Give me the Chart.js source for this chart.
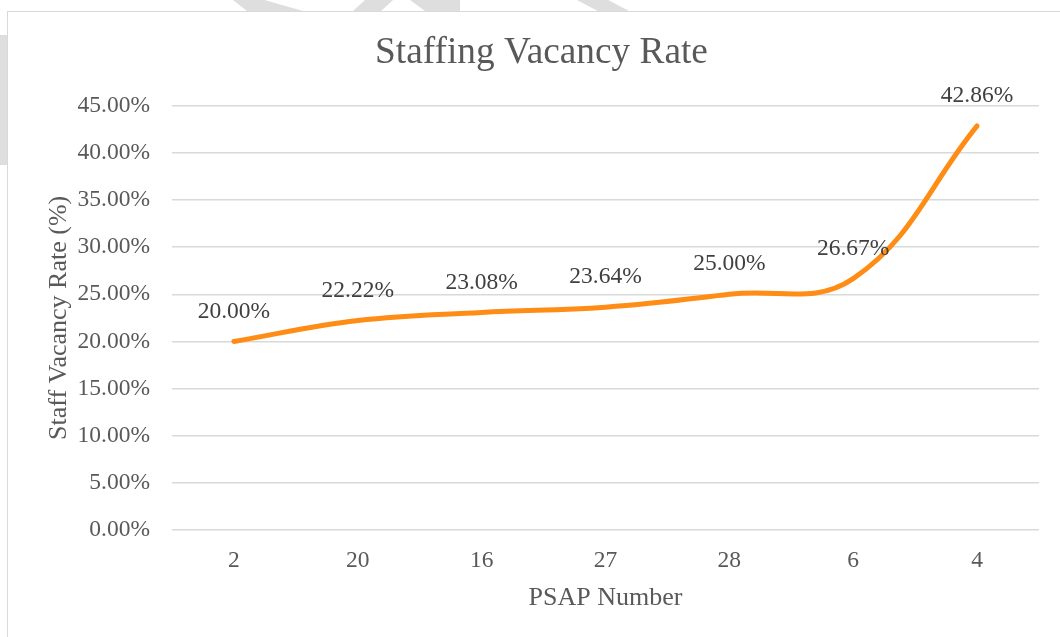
<!DOCTYPE html>
<html>
<head>
<meta charset="utf-8">
<script src="https://cdn.jsdelivr.net/npm/chart.js@4"></script>
<style>
  body { margin: 0; background: #fff; overflow: hidden; }
  .mark { position: absolute; background: #dedede; }
  #box { position: absolute; left: 7px; top: 11px; width: 1053px; height: 626px;
         border-left: 1px solid #d9d9d9; border-top: 1px solid #d9d9d9; background: #fff; }
</style>
</head>
<body>
<!-- faint watermark bits peeking out around the chart frame -->
<div class="mark" style="left:233px;top:0;width:70px;height:11px;clip-path:polygon(0 0,45% 0,100% 100%,20% 100%)"></div>
<div class="mark" style="left:353px;top:0;width:40px;height:11px;clip-path:polygon(30% 0,100% 0,70% 100%,0 100%)"></div>
<div class="mark" style="left:410px;top:0;width:50px;height:11px;clip-path:polygon(0 0,100% 0,100% 100%,30% 100%)"></div>
<div class="mark" style="left:577px;top:0;width:52px;height:11px;clip-path:polygon(0 0,60% 0,100% 100%,40% 100%)"></div>
<div class="mark" style="left:0;top:35px;width:7px;height:130px"></div>
<div id="box"><canvas id="chart" width="1052" height="625"></canvas></div>
<script>
// data
const psapNumbers = ['2', '20', '16', '27', '28', '6', '4'];
const vacancyRates = [20.00, 22.22, 23.08, 23.64, 25.00, 26.67, 42.86];
const yTicks = { min: 0, max: 45, step: 5 };

const serif = "'Liberation Serif', 'Times New Roman', serif";

// draws the value above each point, like Excel's "Above" data labels
const pointLabels = {
  id: 'pointLabels',
  afterDatasetsDraw(chart) {
    const ctx = chart.ctx;
    const meta = chart.getDatasetMeta(0);
    ctx.save();
    ctx.font = '23.5px ' + serif;
    ctx.fillStyle = '#404040';
    ctx.textAlign = 'center';
    ctx.textBaseline = 'middle';
    meta.data.forEach((pt, i) => {
      ctx.fillText(vacancyRates[i].toFixed(2) + '%', pt.x, pt.y - 30);
    });
    ctx.restore();
  }
};

new Chart('chart', {
  type: 'line',
  data: {
    labels: psapNumbers,
    datasets: [{
      data: vacancyRates,
      borderColor: '#FF8C14',
      borderWidth: 5,
      borderCapStyle: 'round',
      tension: 0.4,
      pointRadius: 0,
      fill: false
    }]
  },
  options: {
    responsive: false,
    animation: false,
    layout: { padding: { left: 36, right: 21, top: 0, bottom: 23 } },
    plugins: {
      legend: { display: false },
      tooltip: { enabled: false },
      title: {
        display: true,
        text: 'Staffing Vacancy Rate',
        color: '#595959',
        font: { family: serif, size: 37.3, weight: 'normal' },
        padding: { top: 19, bottom: 30 }
      }
    },
    scales: {
      x: {
        offset: true,
        grid: { display: false },
        border: { display: false },
        ticks: { color: '#595959', font: { family: serif, size: 23.5 }, padding: 9 },
        title: {
          display: true, text: 'PSAP Number', color: '#595959',
          font: { family: serif, size: 26 }, padding: { top: 8, bottom: 0 }
        },
        afterFit(scale) { scale.height = 84; }
      },
      y: {
        min: yTicks.min,
        max: yTicks.max,
        grid: { color: '#d9d9d9', lineWidth: 1.5, drawTicks: false },
        border: { display: false },
        ticks: {
          stepSize: yTicks.step,
          color: '#595959',
          font: { family: serif, size: 23.5 },
          padding: 22,
          callback: v => v.toFixed(2) + '%'
        },
        title: {
          display: true, text: 'Staff Vacancy Rate (%)', color: '#595959',
          font: { family: serif, size: 26 }, padding: { top: 0, bottom: 0 }
        },
        afterFit(scale) { scale.width = 128; }
      }
    }
  },
  plugins: [pointLabels]
});
</script>
</body>
</html>
